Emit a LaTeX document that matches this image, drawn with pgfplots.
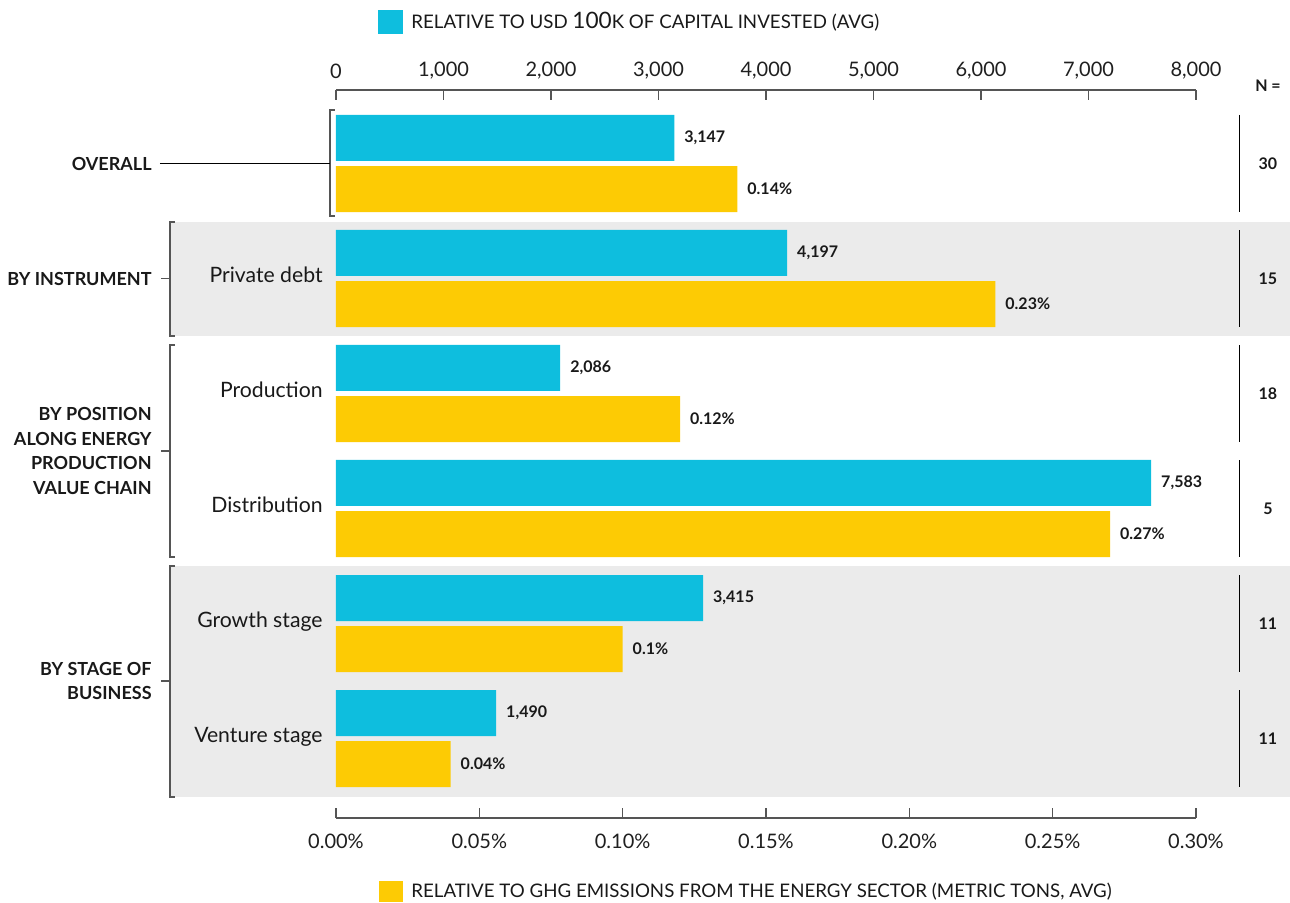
\documentclass[border=0pt]{standalone}
\usepackage{pgfplots}
\usepackage{pgfplotstable}
\pgfplotsset{compat=1.18}
\usepackage{fontspec}
\setmainfont{Lato}
\definecolor{cblue}{RGB}{14,190,222}
\definecolor{cyel}{RGB}{253,203,4}
\definecolor{band}{RGB}{235,235,235}
\definecolor{axg}{RGB}{85,85,85}

\pgfplotstableread{
y x lab
-0.222 3147 3,147
0.778 4197 4,197
1.778 2086 2,086
2.778 7583 7,583
3.778 3415 3,415
4.778 1490 1,490
}\blueT

\pgfplotstableread{
y x lab
0.222 0.14 0.14
1.222 0.23 0.23
2.222 0.12 0.12
3.222 0.27 0.27
4.222 0.10 0.1
5.222 0.04 0.04
}\yelT

\pgfplotsset{base/.style={
  scale only axis, width=430pt, height=364pt, at={(0,0)}, anchor=south west,
  ymin=-0.639, ymax=5.691, y dir=reverse, axis y line=none, ytick=\empty,
  xbar, bar width=0.4, bar shift=0pt, clip=false,
  tick align=inside, major tick length=5pt,
  axis line style={axg, line width=0.6pt, -},
  tick style={axg, line width=0.6pt},
  ticklabel style={font=\fontsize{10}{12}\selectfont, text=black!88},
  /pgf/number format/assume math mode=true,
  point meta=explicit symbolic,
  every node near coord/.style={font=\fontsize{8}{9.5}\selectfont\bfseries, anchor=west, xshift=1.5pt, text=black!90},
}}

\begin{document}
\begin{tikzpicture}
\path[use as bounding box] (-168pt,-42pt) rectangle (477pt,409pt);
\begin{axis}[base,
  xmin=0, xmax=8000, axis x line*=top,
  xtick={0,1000,2000,3000,4000,5000,6000,7000,8000},
  xticklabels={0,{1,000},{2,000},{3,000},{4,000},{5,000},{6,000},{7,000},{8,000}},
  xticklabel style={yshift=2pt},
  nodes near coords={\pgfplotspointmeta},
]
% gray bands
\fill[band] (axis cs:-1544.2,0.5087) rectangle (axis cs:8874.4,1.5);
\fill[band] (axis cs:-1544.2,3.5) rectangle (axis cs:8874.4,5.5087);
% brackets
\draw[axg, line width=0.7pt] (axis cs:-9.3,-0.4652) -- (axis cs:-55.8,-0.4652) -- (axis cs:-55.8,0.4565) -- (axis cs:-9.3,0.4565);
\draw[black, line width=0.5pt] (axis cs:-1637.2,0) -- (axis cs:-55.8,0);
\draw[axg, line width=0.7pt] (axis cs:-1497.7,0.5087) -- (axis cs:-1544.2,0.5087) -- (axis cs:-1544.2,1.5) -- (axis cs:-1497.7,1.5);
\draw[axg, line width=0.7pt] (axis cs:-1544.2,1) -- (axis cs:-1627.9,1);
\draw[axg, line width=0.7pt] (axis cs:-1497.7,1.5783) -- (axis cs:-1544.2,1.5783) -- (axis cs:-1544.2,3.4217) -- (axis cs:-1497.7,3.4217);
\draw[axg, line width=0.7pt] (axis cs:-1544.2,2.5) -- (axis cs:-1627.9,2.5);
\draw[axg, line width=0.7pt] (axis cs:-1497.7,3.5) -- (axis cs:-1544.2,3.5) -- (axis cs:-1544.2,5.5087) -- (axis cs:-1497.7,5.5087);
\draw[axg, line width=0.7pt] (axis cs:-1544.2,4.5) -- (axis cs:-1627.9,4.5);
% group labels
\begin{scope}[every node/.style={anchor=east, inner sep=0pt, align=right, text=black!90, font=\fontsize{9}{12.2}\selectfont\bfseries}]
\node at (axis cs:-1711.6,0) {OVERALL};
\node at (axis cs:-1711.6,1) {BY INSTRUMENT};
\node at (axis cs:-1711.6,2.5) {BY POSITION\\ALONG ENERGY\\PRODUCTION\\VALUE CHAIN};
\node at (axis cs:-1711.6,4.5) {BY STAGE OF\\BUSINESS};
\end{scope}
% category labels
\begin{scope}[every node/.style={anchor=base east, inner sep=0pt, text=black!90, font=\fontsize{10.6}{13}\selectfont}]
\node at (axis cs:-120.9,1.036) {Private debt};
\node at (axis cs:-120.9,2.036) {Production};
\node at (axis cs:-120.9,3.036) {Distribution};
\node at (axis cs:-120.9,4.036) {Growth stage};
\node at (axis cs:-120.9,5.036) {Venture stage};
\end{scope}
% N column
\draw[black, line width=0.5pt] (axis cs:8409.3,-0.4217) -- (axis cs:8409.3,0.4217);
\draw[black, line width=0.5pt] (axis cs:8409.3,0.5783) -- (axis cs:8409.3,1.4217);
\draw[black, line width=0.5pt] (axis cs:8409.3,1.5783) -- (axis cs:8409.3,2.4217);
\draw[black, line width=0.5pt] (axis cs:8409.3,2.5783) -- (axis cs:8409.3,3.4217);
\draw[black, line width=0.5pt] (axis cs:8409.3,3.5783) -- (axis cs:8409.3,4.4217);
\draw[black, line width=0.5pt] (axis cs:8409.3,4.5783) -- (axis cs:8409.3,5.4217);
\begin{scope}[every node/.style={inner sep=0pt, text=black!90, font=\fontsize{8}{9.5}\selectfont\bfseries}]
\node at (axis cs:8669.8,-0.674) {N =};
\node at (axis cs:8669.8,0) {30};
\node at (axis cs:8669.8,1) {15};
\node at (axis cs:8669.8,2) {18};
\node at (axis cs:8669.8,3) {5};
\node at (axis cs:8669.8,4) {11};
\node at (axis cs:8669.8,5) {11};
\end{scope}
% legends
\fill[cblue] (axis cs:390.7,-1.3348) rectangle (axis cs:623.3,-1.1261);
\node[anchor=west, inner sep=0pt, text=black!90, font=\fontsize{9.35}{11}\selectfont] at (axis cs:697.7,-1.230) {RELATIVE TO USD {\fontsize{11.3}{11}\selectfont 100}K OF CAPITAL INVESTED (AVG)};
\fill[cyel] (axis cs:400,6.239) rectangle (axis cs:623.3,6.4217);
\node[anchor=west, inner sep=0pt, text=black!90, font=\fontsize{9.35}{11}\selectfont] at (axis cs:697.7,6.335) {RELATIVE TO GHG EMISSIONS FROM THE ENERGY SECTOR (METRIC TONS, AVG)};
% bars
\addplot[fill=cblue, draw=none] table[x=x, y=y, meta=lab] {\blueT};
\end{axis}
\begin{axis}[base,
  xmin=0, xmax=0.3, axis x line*=bottom,
  xtick={0,0.05,0.1,0.15,0.2,0.25,0.3},
  xticklabels={0.00\%,0.05\%,0.10\%,0.15\%,0.20\%,0.25\%,0.30\%},
  xticklabel style={yshift=-4.5pt},
  nodes near coords={\pgfplotspointmeta\%},
]
\addplot[fill=cyel, draw=none] table[x=x, y=y, meta=lab] {\yelT};
\end{axis}
\end{tikzpicture}
\end{document}
